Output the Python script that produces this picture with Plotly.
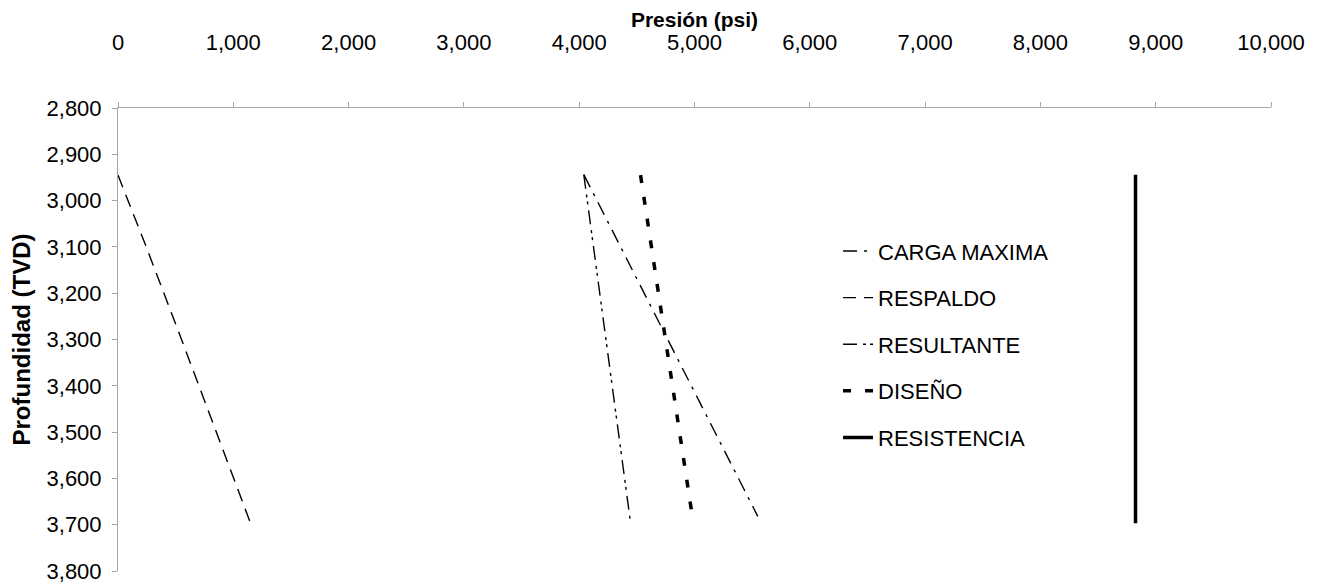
import plotly.graph_objects as go

# Depth (TVD) and pressure (psi) readings
carga_depth = [2944, 3682]
carga_psi = [4040, 5549]

respaldo_depth = [2945, 3100, 3300, 3500, 3695]
respaldo_psi = [0, 245, 551, 851, 1147]

resultante_depth = [2944, 3695]
resultante_psi = [4040, 4445]

diseno_depth = [2945, 3667]
diseno_psi = [4532, 4972]

resistencia_depth = [2944, 3697]
resistencia_psi = [8825, 8825]

x_ticks = [0, 1000, 2000, 3000, 4000, 5000, 6000, 7000, 8000, 9000, 10000]
y_ticks = [2800, 2900, 3000, 3100, 3200, 3300, 3400, 3500, 3600, 3700, 3800]

FONT = "Liberation Sans, Arial, sans-serif"
AX = "#a6a6a6"

fig = go.Figure()
series = [
    ("CARGA MAXIMA", carga_psi, carga_depth, 1.4, "14px,7px,3px,7px"),
    ("RESPALDO", respaldo_psi, respaldo_depth, 1.4, "13px,8px"),
    ("RESULTANTE", resultante_psi, resultante_depth, 1.4, "14px,6px,3px,4px,3px,6px"),
    ("DISEÑO", diseno_psi, diseno_depth, 3.5, "8px,14px"),
    ("RESISTENCIA", resistencia_psi, resistencia_depth, 3.5, "solid"),
]
for i, (name, xs, ys, w, dash) in enumerate(series):
    fig.add_trace(go.Scatter(
        x=xs, y=ys, mode="lines", name=name, legendgroup=f"g{i}",
        line=dict(color="black", width=w, dash=dash),
    ))

fig.update_layout(
    width=1312, height=578,
    margin=dict(l=110, r=49, t=100, b=15, autoexpand=False),
    paper_bgcolor="white", plot_bgcolor="white",
    font=dict(family=FONT, size=22, color="black"),
    separators=".,",
    showlegend=True,
    legend=dict(
        x=0.6245, y=0.736, xanchor="left", yanchor="top",
        bgcolor="rgba(0,0,0,0)", borderwidth=0,
        font=dict(family=FONT, size=22, color="black"),
        traceorder="grouped", tracegroupgap=15,
    ),
    xaxis=dict(
        side="top", range=[0, 10000], tickvals=x_ticks, tickformat=",",
        showgrid=False, zeroline=False, showline=True, linecolor=AX, linewidth=1,
        ticks="outside", ticklen=5, tickcolor=AX, tickwidth=1,
        ticklabelstandoff=43,
        tickfont=dict(family=FONT, size=22, color="black"),
        title=dict(text="Presión (psi)", standoff=3,
                   font=dict(family=FONT, size=21, color="black", weight="bold")),
        automargin=False,
    ),
    yaxis=dict(
        range=[3800, 2800], tickvals=y_ticks, tickformat=",",
        showgrid=False, zeroline=False, showline=True, linecolor=AX, linewidth=1,
        ticks="outside", ticklen=5, tickcolor=AX, tickwidth=1,
        ticklabelstandoff=6,
        tickfont=dict(family=FONT, size=22, color="black"),
        title=dict(text="Profundidad (TVD)", standoff=18,
                   font=dict(family=FONT, size=24, color="black", weight="bold")),
        automargin=False,
    ),
)

fig.write_html("out.html")
